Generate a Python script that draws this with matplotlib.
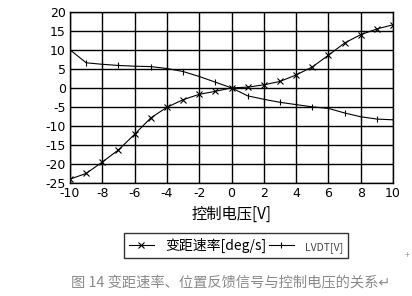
import matplotlib
matplotlib.use('Agg')
import matplotlib.pyplot as plt

plt.rcParams['font.family'] = ['Noto Sans CJK SC', 'DejaVu Sans']

# ── Data ─────────────────────────────────────────────────────
voltage = [-10, -9, -8, -7, -6, -5, -4, -3, -2, -1, 0, 1, 2, 3, 4, 5, 6, 7, 8, 9, 10]
pitch_rate = [-24.0, -22.5, -19.5, -16.3, -12.2, -7.9, -5.1, -3.1, -1.7, -0.9, 0.0,
              0.2, 0.8, 1.7, 3.4, 5.5, 8.6, 11.8, 14.0, 15.5, 16.6]
lvdt = [10.0, 6.6, 6.2, 5.9, 5.7, 5.6, 5.1, 4.3, 3.0, 1.5, 0.0,
        -2.1, -3.0, -3.8, -4.4, -5.0, -5.4, -6.6, -7.6, -8.2, -8.4]
x_ticks = list(range(-10, 11, 2))
y_ticks = list(range(-25, 21, 5))

# ── Plot ─────────────────────────────────────────────────────
fig = plt.figure(figsize=(4.12, 2.96), dpi=100)
ax = fig.add_axes([0.170, 0.382, 0.784, 0.578])

l1, = ax.plot(voltage, pitch_rate, color='black', lw=0.8, marker='x',
              markersize=4, markeredgewidth=0.8, label='变距速率[deg/s]')
l2, = ax.plot(voltage, lvdt, color='black', lw=0.8, marker='|',
              markersize=5, markeredgewidth=0.8, label='LVDT[V]')

ax.set_xlim(-10, 10)
ax.set_ylim(-25, 20)
ax.set_xticks(x_ticks)
ax.set_yticks(y_ticks)
ax.set_xticklabels([str(t) for t in x_ticks], fontsize=9, family='DejaVu Sans')
ax.set_yticklabels([str(t) for t in y_ticks], fontsize=9, family='DejaVu Sans')
ax.tick_params(length=0, pad=3)
ax.grid(True, color='black', lw=1)
for spine in ax.spines.values():
    spine.set_color('black')
    spine.set_linewidth(1)

ax.set_xlabel('控制电压[V]', fontsize=11, labelpad=4)

leg = ax.legend(handles=[l1, l2], loc='center', bbox_to_anchor=(0.573, 0.170),
                bbox_transform=fig.transFigure, ncol=2, frameon=True,
                fancybox=False, edgecolor='black', fontsize=10,
                handlelength=1.8, handletextpad=0.8, columnspacing=0.2,
                borderpad=0.35, borderaxespad=0)
leg.get_frame().set_linewidth(1)
leg.get_texts()[1].set_fontsize(7.5)
leg.get_texts()[1].set_color('#444444')

fig.text(0.560, 0.044, '图 14 变距速率、位置反馈信号与控制电压的关系↵',
         ha='center', va='center', fontsize=10.3, color='#8a8a8a')
fig.text(0.988, 0.138, '+', ha='center', va='center', fontsize=6, color='#999999')

fig.savefig('out.png', dpi=100)
